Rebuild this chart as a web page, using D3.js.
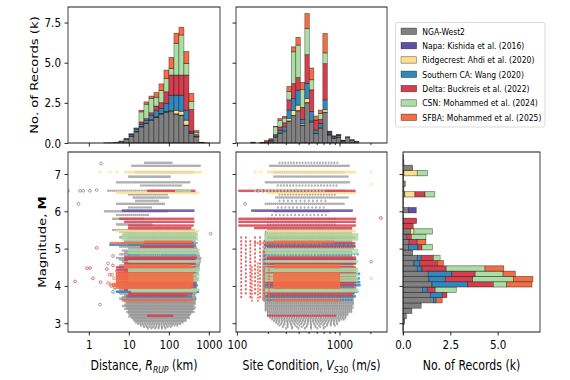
<!DOCTYPE html>
<html>
<head>
<meta charset="utf-8">
<script src="https://cdn.jsdelivr.net/npm/d3@7/dist/d3.min.js"></script>
<style>
html,body{margin:0;padding:0;background:#fff;}
svg{display:block;}
text{font-family:"DejaVu Sans",sans-serif;fill:#000;}
</style>
</head>
<body>
<svg id="fig" width="570" height="380"></svg>
<script>
// ---------------- DATA ----------------
const datasetNames = ["NGA-West2", "Napa: Kishida et al. (2016)", "Ridgecrest: Ahdi et al. (2020)",
  "Southern CA: Wang (2020)", "Delta: Buckreis et al. (2022)", "CSN: Mohammed et al. (2024)",
  "SFBA: Mohammed et al. (2025)"];
const datasetColors = ["#808080", "#5e4fa2", "#fee08b", "#3288bd", "#d53e4f", "#abdda4", "#f46d43"];

// Distance histogram (k records), bin edges in km
const distEdges = [2.371, 3.162, 4.217, 5.623, 7.499, 10, 13.34, 17.78, 23.71, 31.62, 42.17, 56.23, 74.99, 100, 133.4, 177.8, 237.1, 316.2, 421.7, 562.3, 749.9, 1000];
const distNGA        = [.01,.02,.05,.11,.24,.42,.69,1.0,1.21,1.42,1.6,1.8,1.92,1.95,1.8,1.72,1.1,.6,.38,.04,.01];
const distNapa       = [0,0,0,.01,.02,.02,.03,.03,.03,.03,.03,.03,.02,.02,.02,.02,.02,.01,0,0,0];
const distRidgecrest = [0,0,0,0,0,0,0,0,0,0,.01,.01,.02,.06,.22,.24,.3,.05,.02,0,0];
const distSoCal      = [0,0,0,0,.01,.08,.15,.14,.18,.28,.37,.32,.5,.95,.94,1.0,.62,.07,.02,0,0];
const distDelta      = [0,0,0,0,0,.03,.04,.14,.1,.15,.29,.35,.73,1.25,1.25,1.25,2.19,1.36,.1,.01,0];
const distCSN        = [0,0,0,0,0,.03,.03,.63,.9,.9,.55,.75,.83,.42,1.98,2.5,.73,.51,.15,0,0];
const distSFBA       = [0,0,0,0,0,0,0,.1,.14,.14,.29,.42,.52,.68,.63,.48,.73,.49,.1,0,0];

// Vs30 histogram (k records), bin edges in m/s
const vsEdges = [136.3,150.8,166.9,184.6,204.2,225.9,250.0,276.6,306.0,338.6,374.6,414.5,458.6,507.4,561.4,621.3,687.0,760.0,841,930,1029,1139,1260,1394,1542];
const vsNGA        = [.02,0,.01,.05,.12,.37,.59,.7,1.36,1.7,2.0,1.1,2.5,1.31,.58,.9,1.9,.5,.3,.35,.12,.35,.17,.08];
const vsNapa       = [0,0,0,0,0,0,.01,.01,.02,.02,.02,.02,.02,.02,.01,.01,.02,.02,.01,.01,.01,.04,.04,.02];
const vsRidgecrest = [0,0,0,0,0,.01,.02,.05,.16,.31,.34,.1,.25,.04,0,.06,.15,.01,0,0,0,0,0,0];
const vsSoCal      = [0,0,0,0,.03,.07,.18,.25,.52,.74,.93,.25,.95,.59,.21,.25,.62,.1,.08,.1,.03,0,0,0];
const vsDelta      = [.03,0,.03,.1,.08,.08,.2,.25,.63,.93,.79,.75,1.78,1.35,.63,.25,2.25,.05,.03,.04,.02,0,0,0];
const vsCSN        = [0,0,0,0,.04,.48,.42,.3,.52,1.98,2.02,1.1,1.64,.63,0,.37,.67,.03,0,0,0,0,0,0];
const vsSFBA       = [0,0,0,0,0,.03,.1,.1,.31,.31,.48,.45,.92,.73,.25,.21,1.21,.03,.03,.03,0,0,0,0];

// Magnitude histogram (k records), bin edges in M
const magEdges = [2.692,2.834,2.976,3.118,3.26,3.402,3.544,3.686,3.828,3.97,4.112,4.254,4.396,4.538,4.68,4.822,4.964,5.106,5.248,5.39,5.532,5.674,5.816,5.958,6.1,6.242,6.384,6.526,6.668,6.81,6.952,7.094,7.236,7.378,7.52];
const magNGA        = [.01,.03,.09,.18,.47,.96,1.6,1.44,1.02,1.53, 1.37,1.33,.75,.58,.75,.51,.3,.32,.17,.4, .02,.02,.02,.3,.02,.02,.1,.05,.12,.03, .05,.51,.05,.03];
const magNapa       = [0,0,0,0,0,0,0,0,0,0, 0,0,0,0,0,0,0,0,0,0, 0,0,0,.4,0,0,0,0,0,0, 0,0,0,0];
const magRidgecrest = [0,0,0,0,0,0,0,0,0,0, 0,0,0,0,0,0,0,0,0,.18, 0,0,0,0,0,0,.53,0,0,0, .7,0,0,0];
const magSoCal      = [0,0,0,0,0,0,.15,.63,.26,1.89, .86,1.25,.25,.28,.21,0,.49,0,0,0, 0,0,0,0,0,0,0,0,0,0, 0,0,0,0];
const magDelta      = [0,0,0,0,0,0,0,.25,.42,1.35, 1.45,1.23,1.28,.95,.64,0,.21,.43,.27,0, .52,.7,0,0,0,0,.53,0,0,0, 0,0,0,0];
const magCSN        = [0,0,0,0,0,0,0,0,1.11,.7, 2.14,1.47,2.05,0,.36,0,.56,0,.77,.98, 0,0,0,0,0,0,.52,0,0,0, .55,0,0,0];
const magSFBA       = [0,0,0,0,0,0,.32,0,0,1.34, 1.04,.65,.99,.33,0,0,0,.46,0,0, 0,0,0,0,0,0,0,0,0,0, 0,0,0,0];

// Scatter: event rows [M, Rmin(km), Rmax(km), Vs30min, Vs30max, approx. records]
const ngaRows = [
  [7.30,25,120,260,950,20],[7.22,12,620,210,1250,90],[7.05,15,400,230,1100,35],[6.93,10,110,230,1250,40],
  [6.78,5,330,190,1250,55],[6.69,20,200,250,1000,20],[6.55,3,220,160,1100,35],[6.45,10,90,260,900,20],
  [6.37,13,100,240,1250,40],[6.28,15,60,260,800,12],[6.20,5,80,190,1100,40],[6.10,10,40,250,700,12],
  [6.00,2.5,100,230,800,40],[5.90,5,30,220,800,15],[5.80,4,25,200,900,20],[5.65,5,40,200,900,25],
  [5.50,4,420,200,1300,40],[5.45,6,500,190,1300,40],[5.40,8,520,190,1300,45],[5.35,7,480,190,1300,40],
  [5.30,6,520,190,1300,45],[5.25,9,450,190,1300,40],[5.20,8,480,190,1300,45],[5.15,7,500,190,1300,40],
  [5.10,10,480,190,1300,45],[5.05,6,520,180,1350,40],[5.00,10,520,190,1350,45],[4.95,7,560,180,1350,45],
  [4.90,8,550,180,1350,50],[4.85,6,600,180,1350,50],[4.80,8,600,180,1350,50],[4.75,5,620,180,1400,50],
  [4.70,6,650,180,1400,50],[4.65,7,600,180,1400,50],[4.60,8,600,180,1400,50],[4.55,6,620,180,1400,50],
  [4.50,6,600,180,1400,50],[4.45,5,560,180,1400,50],[4.40,8,550,180,1400,50],[4.35,6,580,180,1400,50],
  [4.30,6,550,180,1400,50],[4.25,5,520,180,1400,50],[4.20,6,550,180,1400,50],[4.15,7,540,180,1400,50],
  [4.10,6,500,180,1400,50],[4.05,5,520,180,1400,50],[4.00,5,500,180,1400,50],[3.95,6,480,180,1400,50],
  [3.90,6,500,180,1400,50],[3.85,5,520,180,1400,50],[3.80,6,500,180,1400,50],[3.75,8,470,180,1400,50],
  [3.70,7,480,180,1400,50],[3.66,6,500,180,1400,50],[3.62,7,480,180,1400,50],
  [3.58,8,450,190,1350,45],[3.54,9,470,190,1350,45],[3.50,8,450,190,1350,45],[3.46,7,430,190,1300,45],
  [3.42,9,450,190,1350,45],[3.38,8,420,190,1300,42],[3.34,10,410,190,1300,42],[3.30,9,420,200,1300,40],
  [3.26,10,380,200,1250,40],[3.22,11,360,200,1250,38],[3.18,10,340,210,1200,35],[3.14,12,320,210,1200,32],
  [3.10,13,290,220,1100,30],[3.06,14,260,230,1050,26],[3.02,15,220,240,1000,22],[2.98,17,190,250,950,18],
  [2.94,20,160,260,900,14],[2.90,24,130,280,800,10],[2.86,30,100,300,700,6]
];
const napaRows = [[6.02,7,420,140,1350,130]];
const ridgecrestRows = [[7.05,8,620,200,1450,160],[6.50,5,560,200,1450,110],[5.47,5,560,200,1450,90],[4.85,20,60,250,600,10]];
const socalRows = [
  [5.10,3.4,25,190,1450,22],[5.08,25,450,190,1450,60],[4.85,10,450,190,1500,30],[4.72,10,450,190,1500,40],
  [4.60,10,450,190,1500,40],[4.45,10,500,190,1500,40],[4.32,8,500,190,1600,80],[4.20,8,500,190,1600,60],
  [4.10,8,500,190,1600,80],[4.02,6,520,190,1600,100],[3.95,6,520,190,1500,40],[3.84,5,550,190,1500,90],
  [3.72,9,380,190,1450,90],[3.62,10,300,200,1300,30]
];
const deltaRows = [
  [6.55,30,450,105,1450,80],[5.80,6,420,105,1450,110],[5.72,8,420,105,1450,100],[5.62,10,420,105,1450,100],
  [5.55,10,350,150,1300,60],[5.30,10,450,200,1400,60],[5.15,25,400,200,1400,70],[5.05,20,400,200,1400,40],
  [4.76,8,500,200,1450,140],[4.70,8,450,200,1450,100],[4.60,8,450,200,1450,90],[4.50,5,450,200,1450,90],
  [4.42,5,450,200,1450,110],[4.35,5,450,200,1450,100],[4.26,5,450,200,1450,100],[4.18,5,450,200,1450,100],
  [4.10,5,450,200,1450,100],[4.02,5,450,200,1450,100],[3.90,8,400,200,1400,50],[3.80,10,380,200,1400,90],
  [3.74,10,300,200,1300,30],[3.20,30,130,200,900,30]
];
const csnRows = [
  [6.55,150,350,150,700,20],[5.38,7,520,190,1500,120],[5.32,7,520,190,1500,110],[5.25,7,520,190,1500,110],
  [4.96,10,560,190,1500,100],[4.88,10,560,190,1500,100],[4.66,10,560,190,1500,110],[4.46,10,560,190,1500,100],
  [4.40,10,560,190,1500,100],[4.30,10,560,190,1500,90],[4.22,10,560,190,1500,100],[4.15,10,560,190,1500,100],
  [3.90,10,560,190,1500,100],[3.86,12,500,190,1500,60]
];
const sfbaRows = [
  [5.15,3.5,25,150,700,25],[5.18,25,380,230,900,40],[4.55,8,350,230,1000,80],[4.50,8,400,230,1000,100],
  [4.33,5,400,230,1000,120],[4.28,5,400,230,1000,120],[4.22,5,400,230,1000,120],[4.16,5,400,230,1000,120],
  [4.10,5,400,230,1000,120],[4.05,4,400,230,1000,120],[4.00,4,400,230,1000,120],[3.95,5,350,230,1000,80],
  [3.62,7,380,230,1000,120]
];
// stations with low Vs30 recording many events: [dataset, Vs30, Mmin, Mmax, records]
const vsColumns = [
  [4,110,3.7,5.3,16],[4,122,3.8,5.3,14],[4,135,3.7,5.2,16],[4,150,3.8,5.3,14],[4,168,3.7,5.3,16],[4,185,3.8,5.2,14],
  [6,140,3.6,4.5,10],[6,160,3.6,4.6,12],[6,185,3.6,4.5,12],[6,205,3.6,4.6,12]
];
// isolated records: [dataset, R(km), M] and [dataset, Vs30, M]
const distPoints = [
  [0,2.0,7.28],[0,0.3,6.55],[0,0.6,6.55],[0,0.72,6.55],[0,1.06,6.55],[0,1.56,6.57],[0,0.55,6.2],[0,1.9,3.5],
  [0,1100,5.4],[0,4.0,4.8],[0,3.0,4.6],
  [2,1.9,7.05],[2,3.4,7.05],[2,5.0,7.05],
  [3,4.5,3.95],[3,5.5,4.05],[3,4.0,3.84],
  [4,0.45,4.12],[4,0.9,4.47],[4,1.07,4.48],[4,1.26,4.2],[4,1.56,5.02],[4,1.95,4.1],[4,2.8,4.45],[4,3.3,4.3],[4,4.0,4.55],[4,3.6,4.0],
  [6,3.0,4.08],[6,3.5,4.05],[6,4.2,4.2],[6,5.0,4.4],[6,4.5,3.95],[6,3.8,4.3]
];
const vsPoints = [
  [0,2030,4.65],[0,120,6.2],[0,160,6.55],[0,180,6.55],
  [2,2030,7.05],[2,2030,6.73],[2,150,7.05],[2,170,7.05],
  [4,2530,5.82],[5,2030,4.2]
];

const distTicks = [1, 10, 100, 1000];
const vsMajorTicks = [100, 1000];
const vsMinorTicks = [200, 300, 400, 500, 600, 700, 800, 900, 2000];
const countTicks = [0, 2.5, 5.0, 7.5];
const countTicksRight = [0, 2.5, 5.0];
const magTicks = [3, 4, 5, 6, 7];

// ---------------- LAYOUT ----------------
const S = 0.83;                 // reference is squeezed horizontally
const W = 570 / S;
const X = v => v / S;           // screen px -> drawing units
const FT = 12.5, FL = 13.2, FG = 9.2;

const svg = d3.select("#fig").attr("viewBox", `0 0 ${W} 380`).attr("preserveAspectRatio", "none");

const xR = d3.scaleLog().domain([0.3, 1890]).range([X(68), X(220)]);
const xV = d3.scaleLog().domain([97.8, 2900]).range([X(236), X(387)]);
const yM = d3.scaleLinear().domain([2.764, 7.59]).range([332, 152]);
const yH = d3.scaleLinear().domain([0, 8.47]).range([143, 7]);
const xH = d3.scaleLinear().domain([0, 7.23]).range([X(403), X(540)]);

const defs = svg.append("defs");
function clip(id, x0, x1, y0, y1) {
  defs.append("clipPath").attr("id", id).append("rect")
    .attr("x", x0).attr("y", y0).attr("width", x1 - x0).attr("height", y1 - y0);
}
clip("cL", X(68), X(220), 152, 332);
clip("cM", X(236), X(387), 152, 332);

function stack(series) {
  const out = [];
  const nb = series[0].length;
  for (let b = 0; b < nb; b++) {
    let c = 0;
    series.forEach((s, d) => { const v = s[b]; if (v > 0) out.push({ b, d, c0: c, c1: c + v }); c += v; });
  }
  return out;
}
const barStyle = sel => sel.attr("stroke", "#000").attr("stroke-opacity", 0.55).attr("stroke-width", 0.7);

svg.append("g").selectAll("rect")
  .data(stack([distNGA, distNapa, distRidgecrest, distSoCal, distDelta, distCSN, distSFBA]))
  .join("rect")
  .attr("x", d => xR(distEdges[d.b])).attr("width", d => xR(distEdges[d.b + 1]) - xR(distEdges[d.b]))
  .attr("y", d => yH(d.c1)).attr("height", d => yH(d.c0) - yH(d.c1))
  .attr("fill", d => datasetColors[d.d]).call(barStyle);

svg.append("g").selectAll("rect")
  .data(stack([vsNGA, vsNapa, vsRidgecrest, vsSoCal, vsDelta, vsCSN, vsSFBA]))
  .join("rect")
  .attr("x", d => xV(vsEdges[d.b])).attr("width", d => xV(vsEdges[d.b + 1]) - xV(vsEdges[d.b]))
  .attr("y", d => yH(d.c1)).attr("height", d => yH(d.c0) - yH(d.c1))
  .attr("fill", d => datasetColors[d.d]).call(barStyle);

svg.append("g").selectAll("rect")
  .data(stack([magNGA, magNapa, magRidgecrest, magSoCal, magDelta, magCSN, magSFBA]))
  .join("rect")
  .attr("y", d => yM(magEdges[d.b + 1])).attr("height", d => yM(magEdges[d.b]) - yM(magEdges[d.b + 1]))
  .attr("x", d => xH(d.c0)).attr("width", d => xH(d.c1) - xH(d.c0))
  .attr("fill", d => datasetColors[d.d]).call(barStyle);

// scatter panels
const gL = svg.append("g").attr("clip-path", "url(#cL)");
const gM = svg.append("g").attr("clip-path", "url(#cM)");
function dotLine(g, x0, y0, x1, y1, n, col, op, w, minSp) {
  const len = Math.hypot(x1 - x0, y1 - y0);
  const sp = Math.max(minSp, len / Math.max(1, n));
  g.append("line").attr("x1", x0).attr("y1", y0).attr("x2", x1).attr("y2", y1)
    .attr("stroke", col).attr("stroke-width", w).attr("stroke-linecap", "round")
    .attr("stroke-dasharray", `0 ${sp}`).attr("stroke-opacity", op);
}
function ring(g, x, y, col) {
  g.append("ellipse").attr("cx", x).attr("cy", y).attr("rx", 1.4 / S).attr("ry", 1.4)
    .attr("fill", "none").attr("stroke", col).attr("stroke-width", 0.8);
}
const rowSets = [ngaRows, napaRows, ridgecrestRows, socalRows, deltaRows, csnRows, sfbaRows];
rowSets.forEach((rows, ds) => {
  const col = datasetColors[ds];
  const op = ds === 0 ? 0.62 : 0.85, w = ds === 0 ? 2.6 : 2.7, minSp = ds === 0 ? 1.9 : 1.4;
  rows.forEach(r => {
    const y = yM(r[0]);
    dotLine(gL, xR(r[1]), y, xR(r[2]), y, r[5], col, op, w, minSp);
    dotLine(gM, xV(r[3]), y, xV(r[4]), y, r[5], col, op, w, minSp);
  });
  vsColumns.filter(c => c[0] === ds).forEach(c => {
    dotLine(gM, xV(c[1]), yM(c[3]), xV(c[1]), yM(c[2]), c[4], col, 0.8, 2.5, 1.4);
  });
  distPoints.filter(p => p[0] === ds).forEach(p => ring(gL, xR(p[1]), yM(p[2]), col));
  vsPoints.filter(p => p[0] === ds).forEach(p => ring(gM, xV(p[1]), yM(p[2]), col));
});

// ---------------- AXES ----------------
function frame(x0, x1, y0, y1) {
  svg.append("rect").attr("x", X(x0)).attr("y", y0).attr("width", X(x1) - X(x0)).attr("height", y1 - y0)
    .attr("fill", "none").attr("stroke", "#000").attr("stroke-width", 0.9);
}
function put(axis, tx, ty) {
  const g = svg.append("g").attr("transform", `translate(${tx},${ty})`).call(axis);
  g.select(".domain").remove();
  g.attr("font-size", FT).attr("font-family", "DejaVu Sans");
  g.selectAll("line").attr("stroke", "#000").attr("stroke-width", 0.9);
  g.selectAll("text").attr("fill", "#000");
  return g;
}
const TL = 3.5;
put(d3.axisBottom(xR).tickValues(distTicks).tickFormat("").tickSize(TL), 0, 143);
put(d3.axisLeft(yH).tickValues(countTicks).tickFormat(d3.format(".1f")).tickSize(TL / S).tickPadding(3.5 / S), X(68), 0);
put(d3.axisBottom(xV).tickValues(vsMajorTicks).tickFormat("").tickSize(TL), 0, 143);
put(d3.axisBottom(xV).tickValues(vsMinorTicks).tickFormat("").tickSize(2), 0, 143);
put(d3.axisLeft(yH).tickValues(countTicks).tickFormat("").tickSize(TL / S), X(236), 0);
put(d3.axisBottom(xR).tickValues(distTicks).tickFormat(d3.format("d")).tickSize(TL).tickPadding(4.5), 0, 332);
put(d3.axisLeft(yM).tickValues(magTicks).tickFormat(d3.format("d")).tickSize(TL / S).tickPadding(3.5 / S), X(68), 0);
put(d3.axisBottom(xV).tickValues(vsMajorTicks).tickFormat(d3.format("d")).tickSize(TL).tickPadding(4.5), 0, 332);
put(d3.axisBottom(xV).tickValues(vsMinorTicks).tickFormat("").tickSize(2), 0, 332);
put(d3.axisLeft(yM).tickValues(magTicks).tickFormat("").tickSize(TL / S), X(236), 0);
put(d3.axisBottom(xH).tickValues(countTicksRight).tickFormat(d3.format(".1f")).tickSize(TL).tickPadding(4.5), 0, 332);
put(d3.axisLeft(yM).tickValues(magTicks).tickFormat("").tickSize(TL / S), X(403), 0);

frame(68, 220, 7, 143);
frame(236, 387, 7, 143);
frame(68, 220, 152, 332);
frame(236, 387, 152, 332);
frame(403, 540, 152, 332);

// ---------------- LABELS ----------------
function vlabel(x, y, build) {
  const t = svg.append("text").attr("transform", `translate(${X(x)},${y}) rotate(-90)`)
    .attr("text-anchor", "middle").attr("font-size", FL);
  build(t);
}
vlabel(38, 75, t => t.text("No. of Records (k)"));
vlabel(46, 242, t => { t.append("tspan").text("Magnitude, "); t.append("tspan").attr("font-weight", "bold").text("M"); });

const t1 = svg.append("text").attr("x", X(144)).attr("y", 370).attr("text-anchor", "middle").attr("font-size", FL);
t1.append("tspan").text("Distance, ");
t1.append("tspan").attr("font-style", "italic").text("R");
t1.append("tspan").attr("font-style", "italic").attr("font-size", FL * 0.7).attr("dy", 2.6).text("RUP");
t1.append("tspan").attr("dy", -2.6).text(" (km)");

const t2 = svg.append("text").attr("x", X(311.5)).attr("y", 370).attr("text-anchor", "middle").attr("font-size", FL);
t2.append("tspan").text("Site Condition, ");
t2.append("tspan").attr("font-style", "italic").text("V");
t2.append("tspan").attr("font-style", "italic").attr("font-size", FL * 0.7).attr("dy", 2.6).text("S");
t2.append("tspan").attr("font-size", FL * 0.7).text("30");
t2.append("tspan").attr("dy", -2.6).text(" (m/s)");

svg.append("text").attr("x", X(471.5)).attr("y", 370).attr("text-anchor", "middle").attr("font-size", FL)
  .text("No. of Records (k)");

// ---------------- LEGEND ----------------
const lg = svg.append("g");
lg.append("rect").attr("x", X(395.5)).attr("y", 22.5).attr("width", X(545) - X(395.5)).attr("height", 104.5)
  .attr("rx", 2).attr("fill", "#fff").attr("fill-opacity", 0.8).attr("stroke", "#cccccc").attr("stroke-width", 0.8);
datasetNames.forEach((nm, i) => {
  const cy = 31.3 + i * 14.33;
  lg.append("rect").attr("x", X(401)).attr("y", cy - 3.2).attr("width", X(416.7) - X(401)).attr("height", 6.4)
    .attr("fill", datasetColors[i]).attr("stroke", "#000").attr("stroke-opacity", 0.6).attr("stroke-width", 0.6);
  lg.append("text").attr("x", X(422.3)).attr("y", cy + 3.3).attr("font-size", FG).text(nm);
});
</script>
</body>
</html>
